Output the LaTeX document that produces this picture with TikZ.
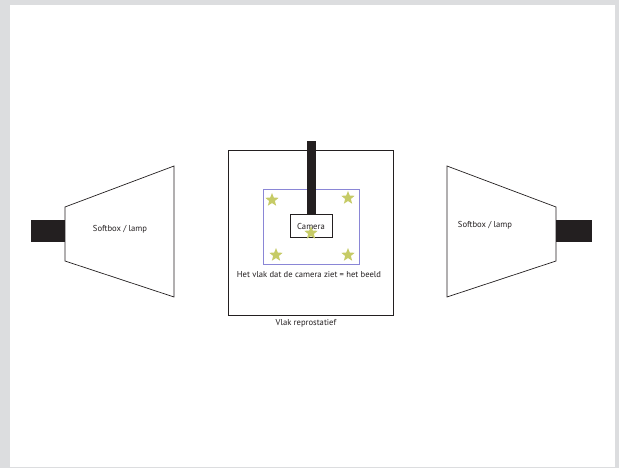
\documentclass[tikz,border=0pt]{standalone}
\usepackage{fontspec}
\setmainfont{PT Sans}
\usetikzlibrary{shapes.geometric}
\definecolor{bggray}{HTML}{DCDDDF}
\definecolor{frame}{HTML}{8A86D6}
\definecolor{stargreen}{HTML}{C6CB66}
\definecolor{ink}{HTML}{231F20}
\begin{document}
\begin{tikzpicture}[x=1pt,y=-1pt,
  outline/.style={draw=ink,line width=0.7pt},
  blackbar/.style={fill=ink,draw=none},
  lbl/.style={font=\fontsize{8.6}{10}\selectfont,text=ink,inner sep=0pt},
  stardot/.style={star,star points=5,star point ratio=2.3,fill=stargreen,draw=none,minimum size=14pt,inner sep=0pt}]
\useasboundingbox (0,0) rectangle (619,468);
\fill[bggray] (0,0) rectangle (619,468);
\fill[white] (9.5,5) rectangle (614.5,467);
% left lamp
\fill[blackbar] (31,220) rectangle (65,242);
\draw[outline] (65,207) -- (174,166) -- (174,297) -- (65,261) -- cycle;
\node[lbl] (lt) at (120,229) {Softbox / lamp};
% right lamp
\fill[blackbar] (556,220) rectangle (592,242);
\draw[outline] (447,166) -- (556,207) -- (556,261) -- (447,297) -- cycle;
\node[lbl] (rt) at (485,225) {Softbox / lamp};
% reprostatief
\node[outline,minimum width=165pt,minimum height=165pt,inner sep=0pt] (plane) at (310.5,232.5) {};
\node[lbl] (planelbl) at (306,323) {Vlak reprostatief};
\node[draw=frame,line width=0.7pt,minimum width=96pt,minimum height=75pt,inner sep=0pt] (view) at (311,226.5) {};
\fill[blackbar] (307,141) rectangle (316,214);
\node[outline,fill=white,minimum width=42pt,minimum height=23pt,inner sep=0pt] (cam) at (311,225.5) {};
\node[lbl] (camlbl) at (311,226) {Camera};
\node[stardot] (s1) at (272,200) {};
\node[stardot] (s2) at (348,198) {};
\node[stardot] (s3) at (276,255) {};
\node[stardot] (s4) at (348,255) {};
\node[stardot] (s5) at (311,233) {};
\node[lbl] (viewlbl) at (309,275) {Het vlak dat de camera ziet = het beeld};
\end{tikzpicture}
\end{document}
